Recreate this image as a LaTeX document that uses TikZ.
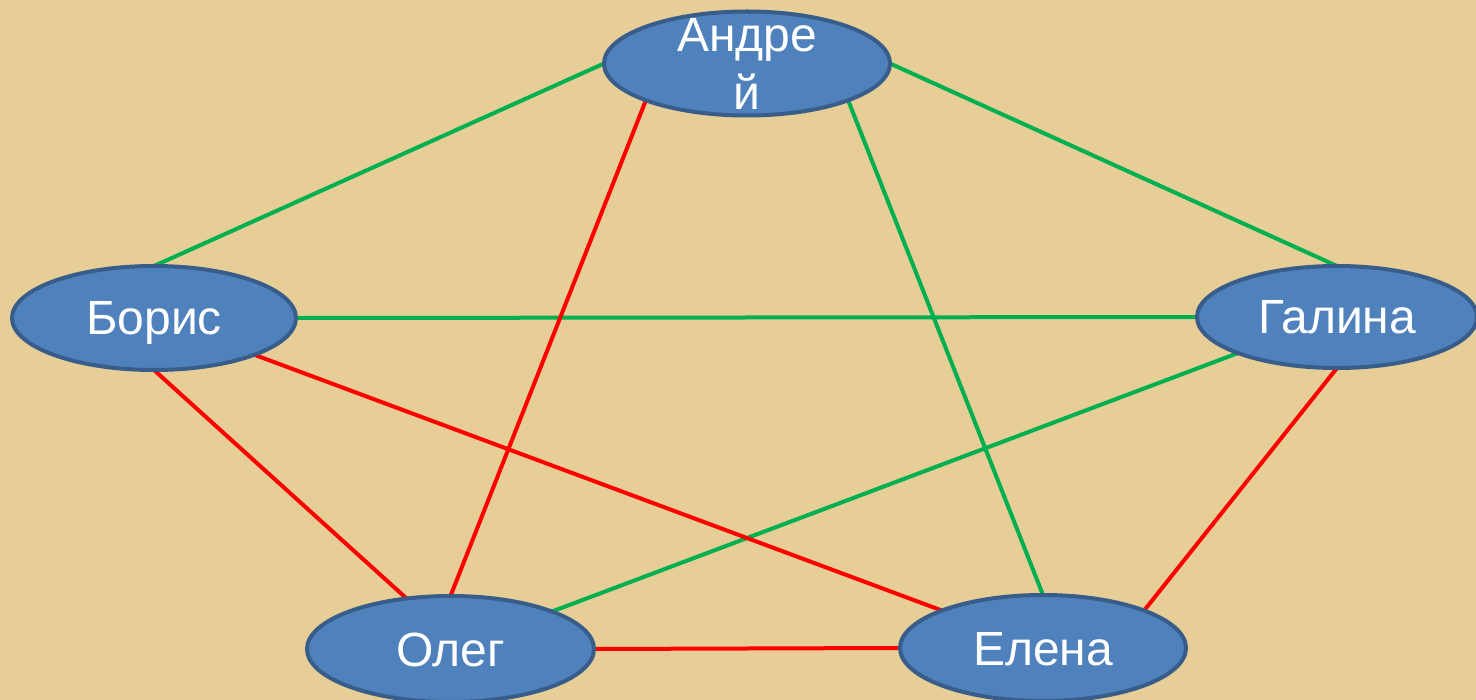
\documentclass[tikz,border=0pt]{standalone}
\usepackage{fontspec}
\setmainfont{Liberation Sans}
\usetikzlibrary{shapes.geometric}
\definecolor{bgpap}{RGB}{230,206,150}
\definecolor{nodefill}{RGB}{79,129,189}
\definecolor{nodeedge}{RGB}{56,93,138}
\definecolor{gline}{RGB}{0,176,80}
\definecolor{rline}{RGB}{255,0,0}
\pgfdeclarelayer{paper}
\pgfdeclarelayer{bg}
\pgfsetlayers{paper,bg,main}
\tikzset{
  person/.style={ellipse, draw=nodeedge, fill=nodefill, line width=4pt,
    inner sep=0pt, outer sep=0pt, minimum width=#1, minimum height=104pt,
    text=white, font=\fontsize{48}{58}\selectfont, text height=34pt, text depth=0pt},
  person/.default=286pt,
  nametext/.style={text=white, font=\fontsize{48}{58}\selectfont, align=center, inner sep=0pt},
  yes/.style={draw=gline, line width=4pt},
  no/.style={draw=rline, line width=4pt}
}
\begin{document}
\begin{tikzpicture}[x=1pt,y=-1pt]
\begin{pgfonlayer}{paper}
\fill[bgpap] (0,0) rectangle (1476,700);
\end{pgfonlayer}
\useasboundingbox (0,0) rectangle (1476,700);
\node[person] (A) at (747,63.5) {};
\node[nametext] (tA) at (A.center) {Андре\\й};
\node[person=284pt] (B) at (154,318) {Борис};
\node[person=280pt, minimum height=102pt] (G) at (1337,317) {Галина};
\node[person=287pt, minimum height=106pt] (O) at (450.5,649) {Олег};
\node[person, minimum height=106pt] (E) at (1043,648) {Елена};
\begin{pgfonlayer}{bg}
\path[yes] (A.west) -- (B.north);
\path[yes] (A.east) -- (G.north);
\path[yes] (A.south east) -- (E.north);
\path[yes] (B.east) -- (G.west);
\path[yes] (G.south west) -- (O.north east);
\path[no] (A.south west) -- (O.north);
\path[no] (B.south) -- (O.131.6);
\path[no] (B.south east) -- (E.north west);
\path[no] (G.south) -- (E.north east);
\path[no] (O.east) -- (E.west);
\end{pgfonlayer}
\end{tikzpicture}
\end{document}
